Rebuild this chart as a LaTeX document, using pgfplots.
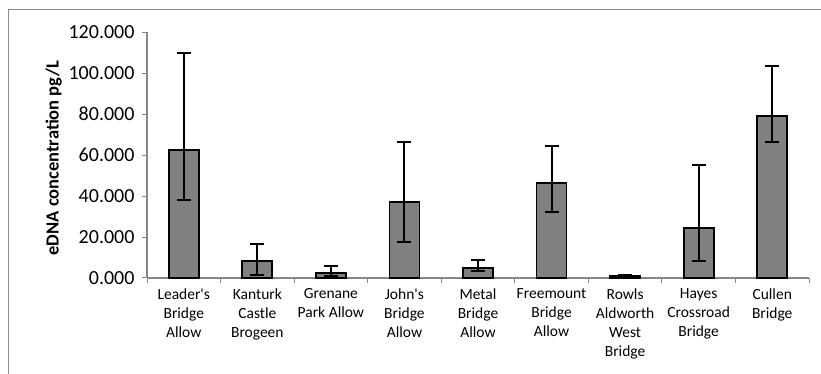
\documentclass[border=0pt]{standalone}
\usepackage{fontspec}
\setmainfont{Carlito}
\usepackage{pgfplots}
\pgfplotsset{compat=1.18}
\definecolor{axgray}{HTML}{868686}
\definecolor{bargray}{HTML}{808080}
\definecolor{framegray}{HTML}{8C8C8C}
\begin{document}
\begin{tikzpicture}[x=1pt,y=1pt]
\path[use as bounding box] (0,0) rectangle (821,374);
\draw[framegray,line width=1pt] (8,0) -- (8,364) -- (821,364);
\begin{axis}[
  at={(147pt,96pt)}, anchor=south west,
  scale only axis, width=662pt, height=245.7pt,
  xmin=-0.5, xmax=8.5, ymin=0, ymax=120,
  axis x line*=bottom, axis y line*=left,
  axis line style={axgray, line width=1.2pt},
  ytick={0,20,...,120},
  yticklabel={\pgfmathprintnumber[fixed,fixed zerofill,precision=3]{\tick}},
  /pgf/number format/assume math mode=true,
  yticklabel style={font=\fontsize{20}{24}\selectfont, xshift=-4pt},
  ytick style={axgray, line width=1pt},
  tick align=outside, major tick length=5pt,
  xtick={0,...,8},
  major x tick style={draw=none},
  minor xtick={-0.5,0.5,...,8.5},
  minor x tick style={axgray, line width=1pt},
  minor tick length=5pt,
  xticklabels={{Leader\textquotesingle s\\Bridge\\Allow},{Kanturk\\Castle\\Brogeen},{Grenane\\Park Allow},{John\textquotesingle s\\Bridge\\Allow},{Metal\\Bridge\\Allow},{Freemount\\Bridge\\Allow},{Rowls\\Aldworth\\West\\Bridge},{Hayes\\Crossroad\\Bridge},{Cullen\\Bridge}},
  xticklabel style={font=\fontsize{15.5}{19}\selectfont, align=center, yshift=-2pt},
  ylabel={\textbf{eDNA concentration pg/L}},
  every axis y label/.style={at={(ticklabel cs:0.5)}, rotate=90, anchor=south, xshift=-3pt, font=\fontsize{18.5}{22}\selectfont},
  clip=false,
]
\addplot[ybar, bar width=30pt, fill=bargray, draw=black, line width=1.8pt,
  error bars/.cd, y dir=both, y explicit,
  error bar style={black, line width=2pt},
  error mark options={black, line width=2pt, mark size=7pt, rotate=90}]
coordinates {
  (0,62.7) += (0,47.3) -= (0,24.5)
  (1,8.3) += (0,8.2) -= (0,6.8)
  (2,2.6) += (0,3.4) -= (0,1.6)
  (3,37.0) += (0,29.6) -= (0,19.3)
  (4,4.9) += (0,4.0) -= (0,1.5)
  (5,46.4) += (0,18.2) -= (0,14.2)
  (6,0.9) += (0,0.5) -= (0,0.4)
  (7,24.6) += (0,30.6) -= (0,16.1)
  (8,79.3) += (0,24.1) -= (0,12.9)
};
\end{axis}
\end{tikzpicture}
\end{document}
